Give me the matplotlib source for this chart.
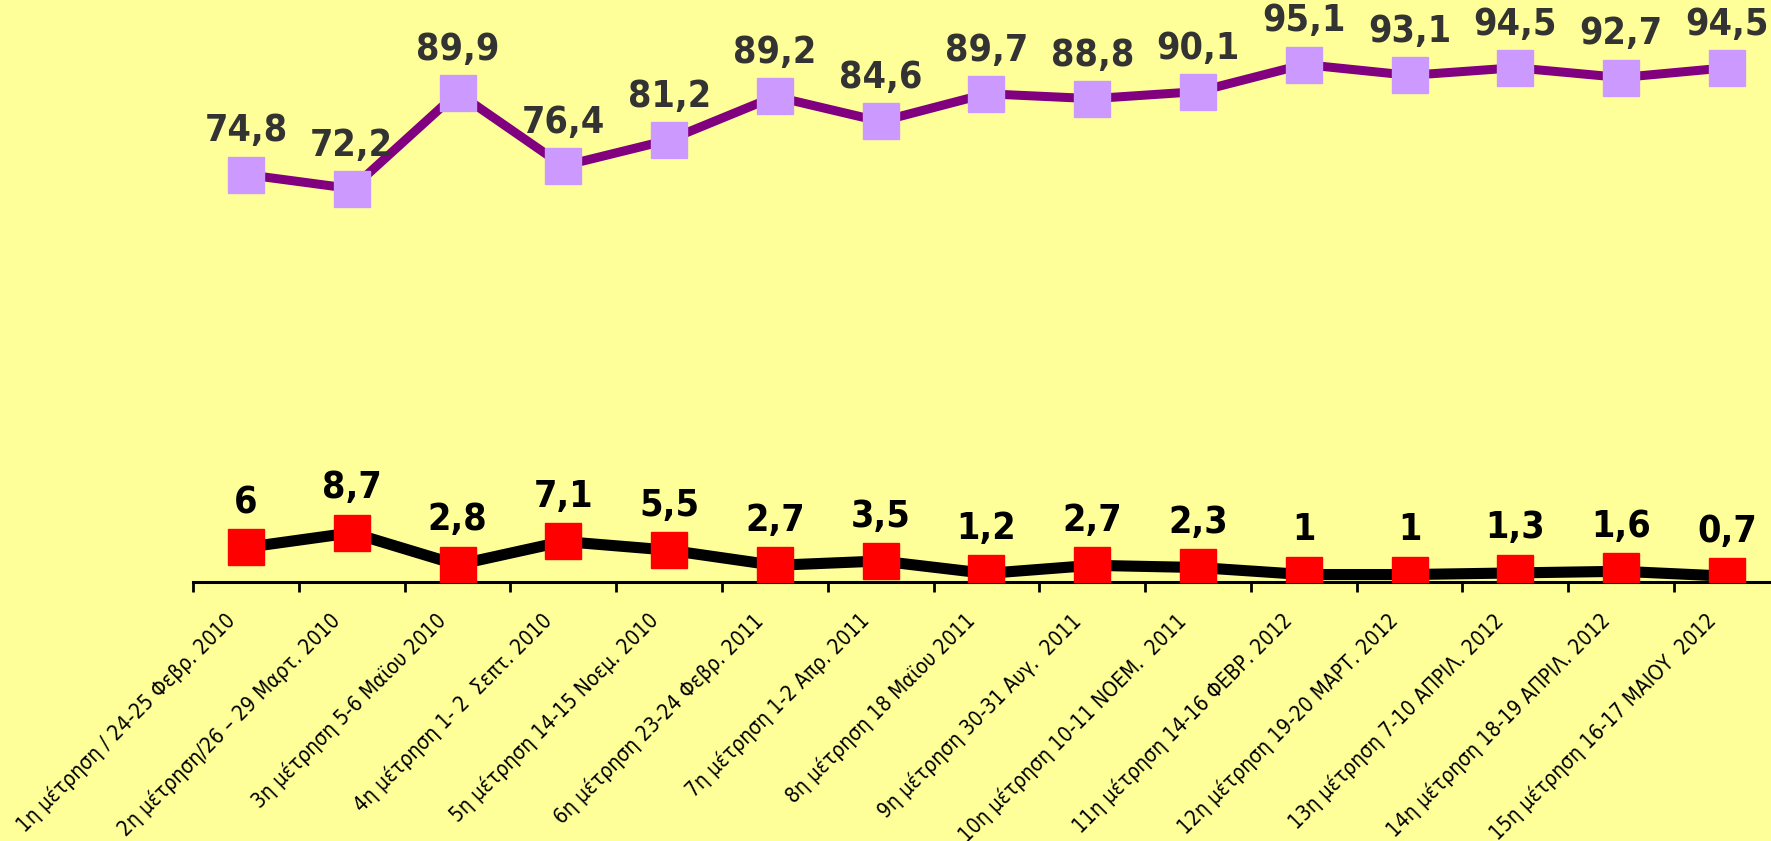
import matplotlib
matplotlib.use("Agg")
import matplotlib.pyplot as plt
from matplotlib.transforms import ScaledTranslation

# δεδομένα
labels = [
    "1η μέτρηση / 24-25 Φεβρ. 2010",
    "2η μέτρηση/26 – 29 Μαρτ. 2010",
    "3η μέτρηση 5-6 Μαϊου 2010",
    "4η μέτρηση 1- 2  Σεπτ. 2010",
    "5η μέτρηση 14-15 Νοεμ. 2010",
    "6η μέτρηση 23-24 Φεβρ. 2011",
    "7η μέτρηση 1-2 Απρ. 2011",
    "8η μέτρηση 18 Μαϊου 2011",
    "9η μέτρηση 30-31 Αυγ.  2011",
    "10η μέτρηση 10-11 ΝΟΕΜ.  2011",
    "11η μέτρηση 14-16 ΦΕΒΡ. 2012",
    "12η μέτρηση 19-20 ΜΑΡΤ. 2012",
    "13η μέτρηση 7-10 ΑΠΡΙΛ. 2012",
    "14η μέτρηση 18-19 ΑΠΡΙΛ. 2012",
    "15η μέτρηση 16-17 ΜΑΙΟΥ  2012",
]
upper = [74.8, 72.2, 89.9, 76.4, 81.2, 89.2, 84.6, 89.7, 88.8, 90.1, 95.1, 93.1, 94.5, 92.7, 94.5]
lower = [6, 8.7, 2.8, 7.1, 5.5, 2.7, 3.5, 1.2, 2.7, 2.3, 1, 1, 1.3, 1.6, 0.7]

bg = "#FFFF99"
x = list(range(len(labels)))


def fmt(v):
    return f"{v:g}".replace(".", ",")


fig = plt.figure(figsize=(17.71, 8.41), dpi=100, facecolor=bg)
ax = fig.add_axes([0.109, 0.308, 0.896, 0.692])
ax.set_facecolor(bg)

ax.plot(x, upper, color="#800080", lw=6.5, marker="s", ms=26,
        mfc="#CC99FF", mec="#CC99FF", zorder=3)
ax.plot(x, lower, color="black", lw=8, marker="s", ms=26,
        mfc="#FF0000", mec="#FF0000", zorder=3)

for xi, v in zip(x, upper):
    ax.annotate(fmt(v), (xi, v), xytext=(0, 31), textcoords="offset points",
                ha="center", va="center", fontsize=27, fontweight="bold",
                fontstretch="condensed", color="#333333", zorder=4)
for xi, v in zip(x, lower):
    ax.annotate(fmt(v), (xi, v), xytext=(0, 32), textcoords="offset points",
                ha="center", va="center", fontsize=27, fontweight="bold",
                fontstretch="condensed", color="black", zorder=4)

ax.set_xlim(-0.5, len(labels) - 0.5)
ax.set_ylim(-0.37, 107)

# τικ στα όρια κατηγοριών, ετικέτες στο κέντρο
ax.set_xticks([i - 0.5 for i in range(len(labels) + 1)])
ax.set_xticklabels([])
ax.set_xticks(x, minor=True)
ax.set_xticklabels(labels, minor=True, rotation=45, ha="right",
                   rotation_mode="anchor", fontsize=15, fontstretch="condensed")
ax.tick_params(axis="x", which="major", length=7, width=2, direction="out")
ax.tick_params(axis="x", which="minor", length=0, pad=20)
shift = ScaledTranslation(-16 / 72, 0, fig.dpi_scale_trans)
for t in ax.get_xticklabels(minor=True):
    t.set_transform(t.get_transform() + shift)
ax.set_yticks([])

for s in ["top", "right", "left"]:
    ax.spines[s].set_visible(False)
ax.spines["bottom"].set_linewidth(2.2)

fig.savefig("out.png", dpi=100, facecolor=bg)
